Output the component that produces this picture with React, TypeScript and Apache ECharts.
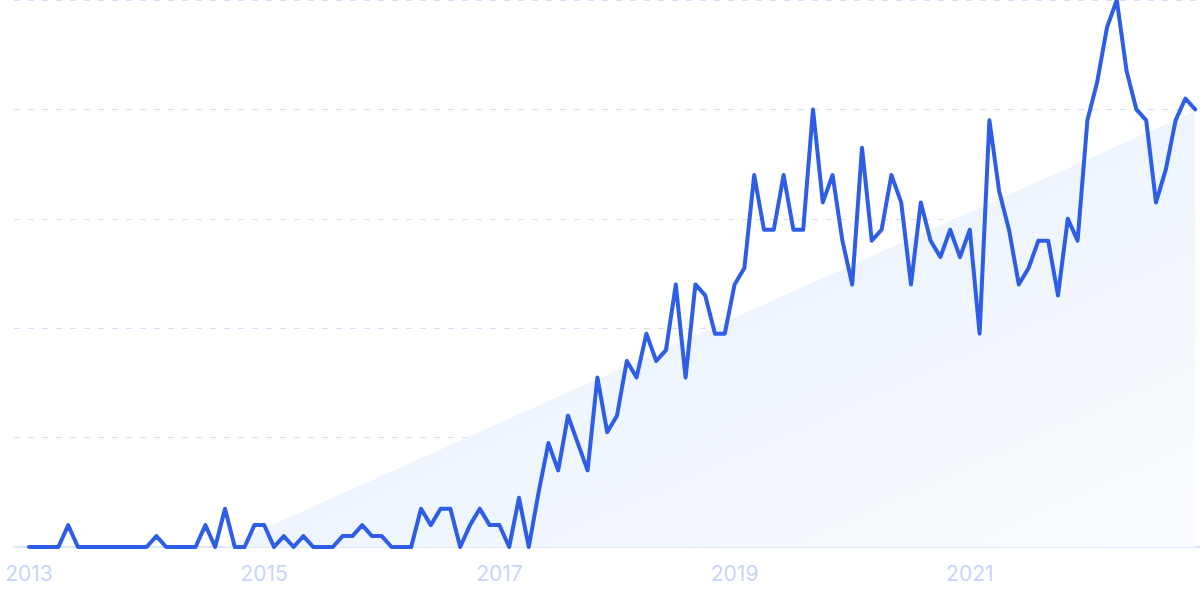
import React, { useEffect, useRef } from "react";
import * as echarts from "echarts";

// Monthly categories, Jan 2013 .. Dec 2022
const startYear = 2013;
const endYear = 2022;
const months: string[] = [];
for (let y = startYear; y <= endYear; y++) {
  for (let m = 1; m <= 12; m++) months.push(`${y}-${String(m).padStart(2, "0")}`);
}

// Interest values (0-100), one per month
const values: number[] = [
  0, 0, 0, 0, 4, 0, 0, 0, 0, 0, 0, 0,
  0, 2, 0, 0, 0, 0, 4, 0, 7, 0, 0, 4,
  4, 0, 2, 0, 2, 0, 0, 0, 2, 2, 4, 2,
  2, 0, 0, 0, 7, 4, 7, 7, 0, 4, 7, 4,
  4, 0, 9, 0, 10, 19, 14, 24, 19, 14, 31, 21,
  24, 34, 31, 39, 34, 36, 48, 31, 48, 46, 39, 39,
  48, 51, 68, 58, 58, 68, 58, 58, 80, 63, 68, 56,
  48, 73, 56, 58, 68, 63, 48, 63, 56, 53, 58, 53,
  58, 39, 78, 65, 58, 48, 51, 56, 56, 46, 60, 56,
  78, 85, 95, 100, 87, 80, 78, 63, 69, 78, 82, 80,
];

// Trend line endpoints: [month index, value]
const trendStart: [number, number] = [19.8, 0];
const trendEnd: [number, number] = [119, 79.7];

// X tick labels
const tickIndices = [0, 24, 48, 72, 96];
const tickLabels = ["2013", "2015", "2017", "2019", "2021"];

export default function App() {
  const ref = useRef<HTMLDivElement>(null);

  useEffect(() => {
    if (!ref.current) return;
    const chart = echarts.init(ref.current, null, { renderer: "svg" });
    const lineData = values.map((v, i) => [i, v]);
    chart.setOption({
      animation: false,
      backgroundColor: "#ffffff",
      grid: { left: 14, right: 0, top: 0, bottom: 52 },
      xAxis: {
        type: "value",
        min: -1.53,
        max: 119.49,
        axisLine: { show: true, lineStyle: { color: "#dde7fb", width: 2 } },
        axisTick: { show: false },
        splitLine: { show: false },
        axisLabel: {
          customValues: tickIndices,
          formatter: (v: number) => {
            const k = tickIndices.indexOf(Math.round(v));
            return k >= 0 ? tickLabels[k] : "";
          },
          color: "#c9d5f5",
          fontSize: 21,
          fontFamily: "Inter, 'Noto Sans', sans-serif",
          margin: 16,
        },
      },
      yAxis: {
        type: "value",
        min: 0,
        max: 100,
        interval: 20,
        axisLine: { show: false },
        axisTick: { show: false },
        axisLabel: { show: false },
        splitLine: {
          show: true,
          lineStyle: { color: "#cce2fc", type: [6, 8], width: 1 },
        },
      },
      series: [
        {
          type: "line",
          data: [trendStart, trendEnd],
          symbol: "none",
          lineStyle: { width: 0, opacity: 0 },
          areaStyle: {
            opacity: 1,
            color: new echarts.graphic.LinearGradient(0, 0, 1, 1, [
              { offset: 0, color: "#e2edfb" },
              { offset: 1, color: "#fafcff" },
            ]),
          },
          z: 1,
          silent: true,
        },
        {
          type: "line",
          data: lineData,
          symbol: "none",
          lineStyle: { color: "#2e5de6", width: 4, join: "round", cap: "round" },
          z: 3,
        },
      ],
    });
    return () => chart.dispose();
  }, []);

  return (
    <div
      ref={ref}
      style={{ position: "absolute", left: 0, top: 0, width: 1200, height: 599 }}
    />
  );
}
